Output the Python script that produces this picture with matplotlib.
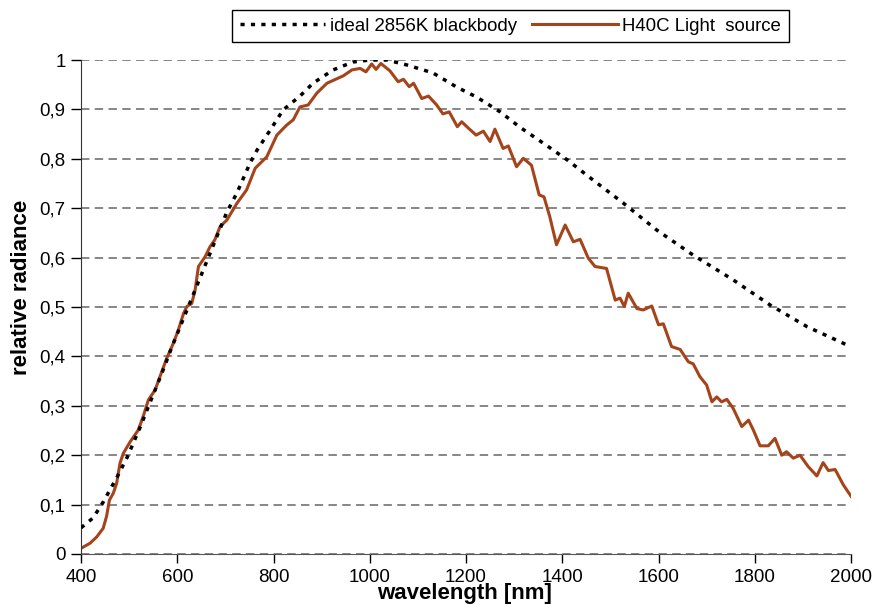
import matplotlib.pyplot as plt

bb_nm = [400, 425, 446, 475, 496, 523, 548, 568, 590, 626, 654, 682, 703, 724,
         751, 766, 793, 820, 855, 882, 924, 965, 1000, 1036, 1077, 1131, 1181,
         1222, 1271, 1312, 1360, 1410, 1464, 1526, 1596, 1672, 1755, 1832,
         1909, 1992, 2000]
bb_val = [0.053, 0.073, 0.105, 0.156, 0.196, 0.257, 0.318, 0.366, 0.422, 0.508,
          0.575, 0.642, 0.692, 0.731, 0.791, 0.818, 0.858, 0.899, 0.927, 0.953,
          0.980, 0.996, 1.0, 1.0, 0.990, 0.974, 0.945, 0.925, 0.895, 0.864,
          0.832, 0.798, 0.757, 0.711, 0.656, 0.605, 0.555, 0.504, 0.460,
          0.423, 0.420]

src_nm = [401, 419, 433, 446, 453, 459, 467, 474, 481, 488, 502, 519, 529, 540,
          554, 564, 578, 592, 602, 613, 620, 630, 637, 644, 658, 668, 678, 689,
          703, 724, 744, 755, 762, 786, 796, 807, 827, 841, 855, 872, 890, 911,
          945, 963, 980, 992, 1004, 1013, 1023, 1042, 1059, 1070, 1082, 1091,
          1108, 1122, 1139, 1152, 1165, 1182, 1191, 1205, 1221, 1236, 1250,
          1260, 1277, 1288, 1305, 1319, 1336, 1352, 1362, 1374, 1388, 1406,
          1423, 1437, 1454, 1468, 1492, 1510, 1520, 1529, 1537, 1555, 1568,
          1586, 1600, 1610, 1627, 1645, 1662, 1672, 1686, 1700, 1711, 1721,
          1731, 1742, 1755, 1773, 1787, 1797, 1811, 1828, 1842, 1856, 1866,
          1880, 1894, 1911, 1929, 1942, 1953, 1967, 1984, 2000]
src_val = [0.012, 0.022, 0.035, 0.052, 0.076, 0.109, 0.123, 0.143, 0.184, 0.204,
           0.227, 0.251, 0.278, 0.312, 0.332, 0.359, 0.396, 0.427, 0.453, 0.487,
           0.501, 0.507, 0.534, 0.582, 0.602, 0.622, 0.636, 0.663, 0.676, 0.710,
           0.737, 0.764, 0.781, 0.804, 0.825, 0.848, 0.868, 0.879, 0.905, 0.909,
           0.933, 0.953, 0.968, 0.980, 0.983, 0.976, 0.992, 0.981, 0.993, 0.978,
           0.956, 0.961, 0.946, 0.953, 0.922, 0.927, 0.909, 0.891, 0.895, 0.865,
           0.875, 0.862, 0.848, 0.856, 0.835, 0.860, 0.821, 0.826, 0.784, 0.801,
           0.787, 0.727, 0.723, 0.683, 0.626, 0.666, 0.632, 0.637, 0.599, 0.582,
           0.578, 0.514, 0.518, 0.501, 0.528, 0.497, 0.494, 0.502, 0.464, 0.466,
           0.420, 0.414, 0.389, 0.385, 0.359, 0.342, 0.308, 0.318, 0.308, 0.313,
           0.295, 0.258, 0.271, 0.251, 0.219, 0.219, 0.234, 0.200, 0.207, 0.194,
           0.200, 0.177, 0.158, 0.185, 0.169, 0.171, 0.140, 0.117]

x_ticks = [400, 600, 800, 1000, 1200, 1400, 1600, 1800, 2000]
y_ticks = [0, 0.1, 0.2, 0.3, 0.4, 0.5, 0.6, 0.7, 0.8, 0.9, 1.0]
y_labels = ["0", "0,1", "0,2", "0,3", "0,4", "0,5", "0,6", "0,7", "0,8", "0,9", "1"]

plt.rcParams['font.family'] = "Liberation Sans"
plt.rcParams['font.size'] = 13.5

fig = plt.figure(figsize=(8.75, 6.05), dpi=100)
ax = fig.add_axes([0.0926, 0.0843, 0.88, 0.8165])

for y in y_ticks:
    ax.axhline(y, color="#666666", lw=1.1, ls=(0, (5.5, 3.5)), zorder=1)

ax.plot(bb_nm, bb_val, color="black", lw=2.5, ls=(0, (1.2, 1.8)),
        dash_capstyle="butt", label="ideal 2856K blackbody", zorder=3)
ax.plot(src_nm, src_val, color="#A5431A", lw=2.2, label="H40C Light  source",
        zorder=2)

ax.set_xlim(400, 2000)
ax.set_ylim(0, 1)
ax.set_xticks(x_ticks)
ax.set_yticks(y_ticks)
ax.set_yticklabels(y_labels)
ax.tick_params(axis="x", direction="out", length=6.5, width=1, pad=4.5,
               labelsize=13.5)
ax.tick_params(axis="y", direction="out", length=7, width=1, pad=4,
               labelsize=13.5)

ax.spines["top"].set_visible(False)
ax.spines["right"].set_visible(False)
ax.spines["left"].set_color("#333333")
ax.spines["bottom"].set_color("#555555")

fig.text(0.025, 0.525, "relative radiance", rotation=90, ha="center",
         va="center", fontsize=16, fontweight="bold")
fig.text(0.531, 0.0095, "wavelength [nm]", ha="center", va="baseline",
         fontsize=16, fontweight="bold")

leg = fig.legend(loc="center", bbox_to_anchor=(0.5834, 0.957), ncol=2,
                 fancybox=False, edgecolor="black", framealpha=1,
                 handlelength=4.6, columnspacing=0.8, handletextpad=0.25,
                 borderpad=0.4, fontsize=13.4)
leg.get_frame().set_linewidth(1.0)

fig.savefig("out.png", dpi=100)
